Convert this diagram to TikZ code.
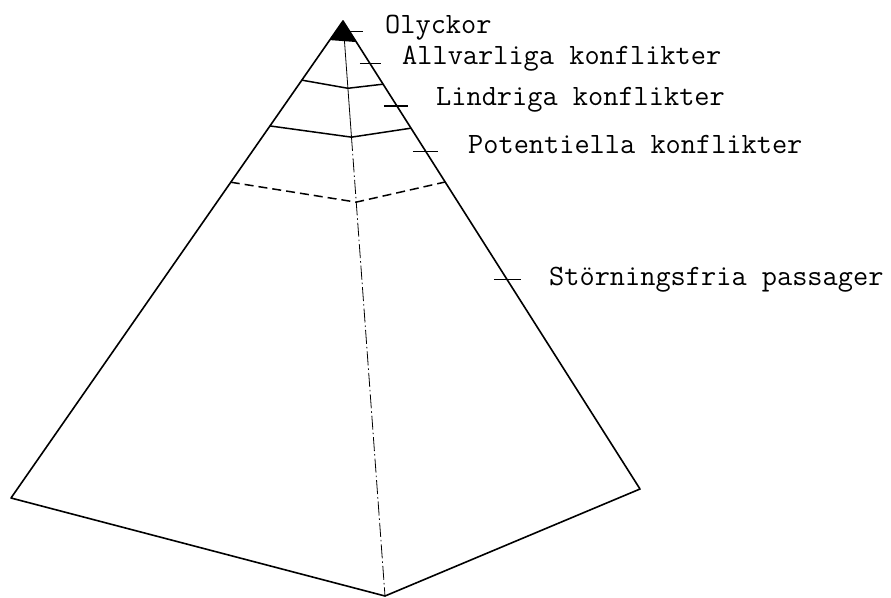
\documentclass[tikz,border=0pt]{standalone}
\usetikzlibrary{calc}
\begin{document}
\begin{tikzpicture}[x=1pt, y=-1pt, line join=round,
    edge/.style={line width=1.6pt},
    band/.style={line width=1.5pt},
    tick/.style={line width=1.4pt},
    frontline/.style={line width=0.8pt},
    lbl/.style={anchor=base west, inner sep=0pt, font=\ttfamily\fontsize{29.5}{29.5}\selectfont}]
    \useasboundingbox (0,0) rectangle (891,597);

    % Corners of the pyramid
    \coordinate (top) at (343,21);
    \coordinate (bl)  at (11,498);
    \coordinate (br)  at (640,489);
    \coordinate (bf)  at (385,596);

    % Outline and front edge
    \draw[edge] (bl) -- (top) -- (br) -- (bf) -- cycle;
    \draw[frontline] (top) -- ($(top)!0.2017!(bf)$);
    \draw[frontline, dash pattern=on 14pt off 3pt on 1.5pt off 3pt]
      ($(top)!0.2017!(bf)$) -- (bf);

    % Tip
    \fill (top) -- ($(top)!0.04!(bl)$) -- ($(top)!0.045!(br)$) -- cycle;

    % Levels
    \draw[band] ($(top)!0.124!(bl)$) -- ($(top)!0.117!(bf)$) -- ($(top)!0.135!(br)$);
    \draw[band] ($(top)!0.220!(bl)$) -- ($(top)!0.202!(bf)$) -- ($(top)!0.229!(br)$);
    \draw[band, dash pattern=on 9pt off 5pt]
      ($(top)!0.338!(bl)$) -- ($(top)!0.315!(bf)$) -- ($(top)!0.344!(br)$);

    % Ticks on the right edge
    \foreach \t/\a/\b in {0.023/-2/13, 0.0904/-10/11, 0.1816/-13/11, 0.2793/-13/12, 0.552/-13/14}{
      \draw[tick] ($(top)!\t!(br)+(\a,0)$) -- ($(top)!\t!(br)+(\b,0)$);
    }

    % Labels
    \node[lbl] (olyckor)       at (385,33)  {Olyckor};
    \node[lbl] (allvarliga)    at (402,64)  {Allvarliga konflikter};
    \node[lbl] (lindriga)      at (436,105) {Lindriga konflikter};
    \node[lbl] (potentiella)   at (468,153) {Potentiella konflikter};
    \node[lbl] (storningsfria) at (549,285) {Störningsfria passager};
\end{tikzpicture}
\end{document}
